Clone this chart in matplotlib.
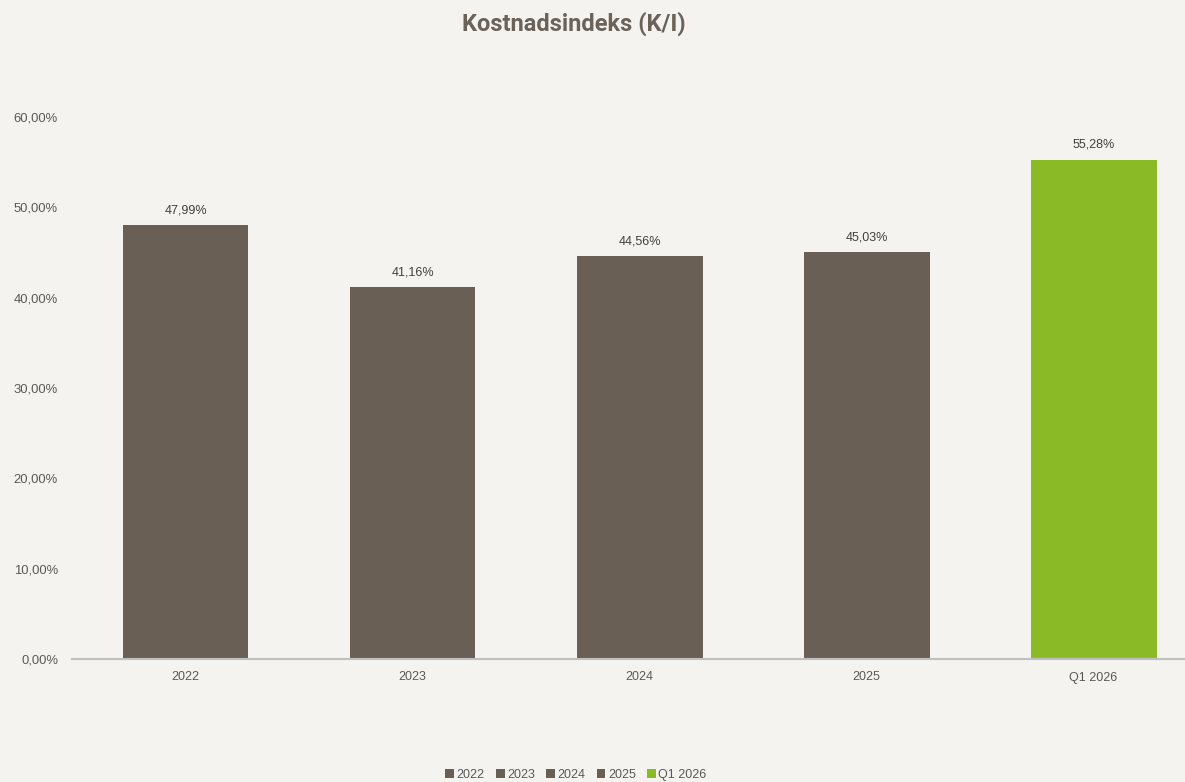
import matplotlib
matplotlib.use("Agg")
import matplotlib.pyplot as plt
from matplotlib.patches import Patch

# data
categories = ["2022", "2023", "2024", "2025", "Q1 2026"]
values = [47.99, 41.16, 44.56, 45.03, 55.28]
colors = ["#695F55", "#695F55", "#695F55", "#695F55", "#8ABB26"]
yticks = [0, 10, 20, 30, 40, 50, 60]

bg = "#F5F3EF"
text_col = "#595959"

plt.rcParams['font.family'] = ['Liberation Sans', 'DejaVu Sans']

fig = plt.figure(figsize=(11.85, 7.82), dpi=100, facecolor=bg)
ax = fig.add_axes([72 / 1185, (782 - 659) / 782, (1185 - 72) / 1185, (659 - 117) / 782])
ax.set_facecolor(bg)

x = range(len(categories))
bars = ax.bar(x, values, width=0.555, color=colors)

for xi, v in zip(x, values):
    ax.text(xi, v + 1.0, f"{v:.2f}%".replace(".", ","), ha="center", va="bottom",
            fontsize=9, color="#404040")

ax.set_xlim(-0.5, 4.403)
ax.set_ylim(0, 60)
ax.set_xticks(list(x))
ax.set_xticklabels(categories, fontsize=9, color=text_col)
ax.set_yticks(yticks)
ax.set_yticklabels([f"{t:.2f}%".replace(".", ",") for t in yticks], fontsize=9.4, color=text_col)
ax.tick_params(axis="both", length=0)
ax.tick_params(axis="x", pad=9)
ax.tick_params(axis="y", pad=10)

for s in ["top", "right", "left"]:
    ax.spines[s].set_visible(False)
ax.spines["bottom"].set_color("#BFBFBF")
ax.spines["bottom"].set_linewidth(1.5)

fig.text(573.5 / 1185, 1 - 24 / 782, "Kostnadsindeks (K/I)", ha="center", va="center",
         fontsize=17, fontweight="bold", color="#6B6259", family=["Roboto", "DejaVu Sans"])

handles = [Patch(facecolor=c, label=l) for c, l in zip(colors, categories)]
fig.legend(handles=handles, loc="center", bbox_to_anchor=(0.486, 1 - 775 / 782), ncol=5,
           frameon=False, fontsize=9, labelcolor=text_col, handlelength=0.7, handleheight=0.7,
           handletextpad=0.2, columnspacing=0.9)

fig.savefig("out.png", dpi=100, facecolor=bg)
